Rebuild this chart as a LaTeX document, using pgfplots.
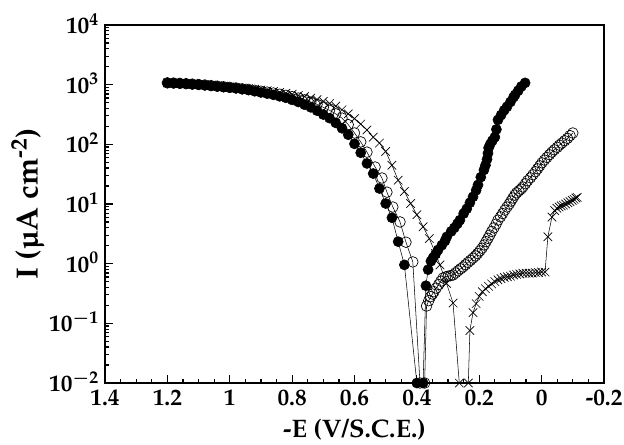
\documentclass[border=0pt]{standalone}
\usepackage[T1]{fontenc}
\usepackage{mathpazo}
\usepackage{textcomp}
\usepackage{pgfplots}
\pgfplotsset{compat=1.18}
\begin{document}
\begin{tikzpicture}
\useasboundingbox (-78.75pt,-45.75pt) rectangle (389.25pt,287.25pt);
\begin{axis}[
  at={(0,0)}, anchor=south west,
  scale only axis, width=374.25pt, height=268.5pt,
  x dir=reverse, xmin=-0.2, xmax=1.4,
  ymode=log, ymin=1e-2, ymax=1e4,
  xtick={-0.2,0,0.2,0.4,0.6,0.8,1,1.2,1.4},
  xticklabels={-0.2,0,0.2,0.4,0.6,0.8,1,1.2,1.4},
  minor x tick num=3,
  ytick={1e-2,1e-1,1,10,100,1000,10000},
  tick align=inside, tick pos=left,
  major tick length=6pt, minor tick length=3pt,
  axis line style={line width=1.3pt},
  every tick/.style={black, line width=0.9pt},
  tick label style={font=\bfseries\boldmath\fontsize{17.5}{20}\selectfont},
  yticklabel style={xshift=-1pt, yshift=1pt},
  xticklabel style={yshift=-1.5pt},
  xlabel={-E (V/S.C.E.)},
  ylabel={I (\textmu A cm\textsuperscript{-2})},
  xlabel style={font=\bfseries\fontsize{19}{22}\selectfont, at={(axis description cs:0.5,-0.13)}, anchor=center},
  ylabel style={font=\bfseries\fontsize{23}{26}\selectfont, at={(axis description cs:-0.155,0.5)}, anchor=center},
  clip=false,
]
% filled circles
\addplot[black, line width=0.4pt, mark=*, mark size=3.8pt, mark options={fill=black}] coordinates {
(1.20,1072)(1.18,1059)(1.16,1047)(1.14,1035)(1.12,1012)(1.10,1000)(1.08,977)(1.06,955)(1.04,933)(1.02,912)(1.00,891)(0.98,871)(0.96,841)(0.94,813)(0.92,776)(0.90,741)(0.88,708)(0.86,676)(0.84,638)(0.82,603)(0.80,556)(0.78,513)(0.76,462)(0.74,417)(0.72,367)(0.70,316)(0.68,275)(0.66,229)(0.64,186)(0.62,145)(0.60,102)(0.58,72.4)(0.56,47.9)(0.54,32.4)(0.52,18.2)(0.50,10.2)(0.48,5.89)(0.46,2.34)(0.44,0.955)(0.40,0.01)
(0.38,0.01)(0.371,0.427)(0.364,0.794)(0.355,1.10)(0.348,1.26)(0.34,1.45)(0.332,1.70)(0.32,2.04)(0.31,2.40)(0.304,2.82)(0.29,3.47)(0.28,3.98)(0.27,4.68)(0.262,5.37)(0.25,6.92)(0.24,8.32)(0.23,10.5)(0.22,13.2)(0.21,17.0)(0.204,20.9)(0.195,28.2)(0.185,37.2)(0.18,44.7)(0.175,56.2)(0.172,70.8)(0.170,87.1)(0.165,100)(0.158,115)(0.150,132)(0.145,178)(0.140,257)(0.13,309)(0.12,372)(0.111,427)(0.10,513)(0.09,617)(0.085,676)(0.075,794)(0.065,933)(0.053,1072)
};
% open circles
\addplot[black, line width=0.4pt, mark=o, mark size=4pt, mark options={line width=0.5pt}] coordinates {
(1.20,1072)(1.18,1064)(1.16,1052)(1.14,1040)(1.12,1023)(1.10,1007)(1.08,989)(1.06,966)(1.04,944)(1.02,923)(1.00,902)(0.98,881)(0.96,851)(0.94,832)(0.92,804)(0.90,776)(0.88,750)(0.86,724)(0.84,692)(0.82,661)(0.80,631)(0.78,596)(0.76,556)(0.74,513)(0.72,468)(0.70,417)(0.68,372)(0.66,324)(0.64,275)(0.62,214)(0.60,155)(0.58,110)(0.56,74.1)(0.534,41.7)(0.512,27.3)(0.496,15.8)(0.477,8.91)(0.454,5.01)(0.435,2.29)(0.413,1.07)(0.39,0.01)
(0.375,0.01)(0.369,0.195)(0.362,0.24)(0.356,0.280)(0.350,0.31)(0.345,0.339)(0.338,0.39)(0.33,0.447)(0.323,0.51)(0.316,0.575)(0.308,0.60)(0.30,0.617)(0.292,0.63)(0.284,0.646)(0.276,0.70)(0.268,0.759)(0.26,0.82)(0.252,0.881)(0.244,0.96)(0.236,1.05)(0.228,1.14)(0.220,1.24)(0.212,1.35)(0.205,1.48)(0.198,1.64)(0.191,1.82)(0.184,2.06)(0.178,2.34)(0.172,2.66)(0.166,3.02)(0.16,3.47)(0.153,3.98)(0.146,4.6)(0.14,5.37)(0.132,6.1)(0.125,6.92)(0.118,7.9)(0.111,8.91)(0.104,10.0)(0.098,11.2)(0.092,12.6)(0.086,14.1)(0.08,15.4)(0.073,16.6)(0.066,17.8)(0.06,19.3)(0.052,21.9)(0.045,24.5)(0.036,27.5)(0.028,30.9)(0.02,34.7)(0.013,38.9)(0.006,43.7)(-0.001,49.0)(-0.009,54.5)(-0.017,60.3)(-0.025,67)(-0.033,74.1)(-0.041,81)(-0.05,89.1)(-0.057,97)(-0.065,105)(-0.074,115)(-0.083,126)(-0.091,140)(-0.1,155)
};
% crosses
\addplot[black, line width=0.4pt, mark=x, mark size=4.5pt, mark options={line width=0.5pt}] coordinates {
(1.20,1072)(1.18,1059)(1.16,1047)(1.14,1035)(1.12,1023)(1.10,1012)(1.08,1000)(1.06,989)(1.04,966)(1.02,944)(1.00,923)(0.98,902)(0.96,881)(0.94,861)(0.92,841)(0.90,813)(0.88,794)(0.86,767)(0.84,741)(0.82,716)(0.80,692)(0.78,661)(0.76,631)(0.74,596)(0.72,562)(0.70,525)(0.68,484)(0.66,437)(0.64,380)(0.62,324)(0.60,269)(0.58,219)(0.56,174)(0.54,132)(0.52,105)(0.50,75.9)(0.48,44.7)(0.46,25.1)(0.44,16.2)(0.42,10.2)(0.40,6.61)(0.38,4.17)(0.36,2.63)(0.34,1.48)(0.326,0.955)(0.305,0.468)(0.284,0.219)(0.264,0.01)
(0.235,0.01)(0.23,0.0759)(0.22,0.151)(0.21,0.214)(0.20,0.282)(0.19,0.339)(0.18,0.380)(0.17,0.417)(0.16,0.457)(0.15,0.501)(0.14,0.537)(0.13,0.562)(0.12,0.589)(0.11,0.603)(0.10,0.617)(0.09,0.646)(0.08,0.661)(0.07,0.676)(0.06,0.692)(0.05,0.692)(0.04,0.692)(0.03,0.692)(0.02,0.708)(0.01,0.708)(0.00,0.724)(-0.011,0.724)(-0.02,2.82)(-0.033,6.03)(-0.042,7.76)(-0.049,8.51)(-0.056,8.91)(-0.063,9.33)(-0.070,9.55)(-0.077,10.0)(-0.084,10.5)(-0.091,11.0)(-0.098,11.5)(-0.104,12.0)(-0.110,12.6)(-0.114,12.9)
};
\end{axis}
\end{tikzpicture}
\end{document}
